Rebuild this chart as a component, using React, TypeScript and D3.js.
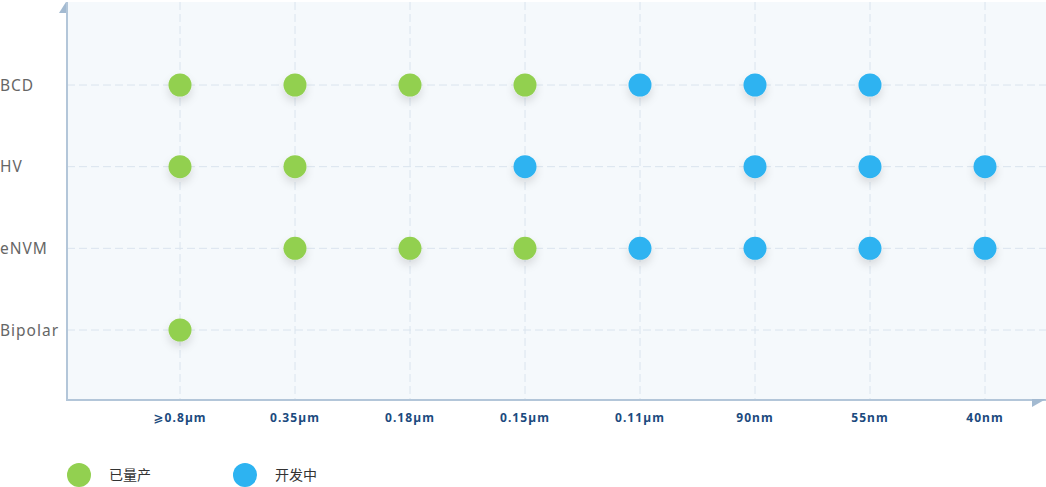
import React from "react";
import * as d3 from "d3";

const processNodes = ["⩾0.8µm", "0.35µm", "0.18µm", "0.15µm", "0.11µm", "90nm", "55nm", "40nm"];
const platforms = ["BCD", "HV", "eNVM", "Bipolar"];
const statusKeys = ["已量产", "开发中"];
// status per platform per node: 0 = 已量产, 1 = 开发中, null = none
const bcdStatus = [0, 0, 0, 0, 1, 1, 1, null];
const hvStatus = [0, 0, null, 1, null, 1, 1, 1];
const envmStatus = [null, 0, 0, 0, 1, 1, 1, 1];
const bipolarStatus = [0, null, null, null, null, null, null, null];
const statusRows = [bcdStatus, hvStatus, envmStatus, bipolarStatus];

const W = 1046;
const H = 487;
const colors = ["#92d050", "#2db3f1"];

export default function App() {
  const left = 67, right = 1046, top = 2, bottom = 400;
  const x = d3.scalePoint<string>().domain(processNodes).range([180, 985]);
  const y = d3.scalePoint<string>().domain(platforms).range([85, 330]);

  const points: { node: string; plat: string; s: number }[] = [];
  statusRows.forEach((row, i) =>
    row.forEach((s, j) => {
      if (s !== null) points.push({ node: processNodes[j], plat: platforms[i], s: s as number });
    })
  );

  const legendX = d3.scaleOrdinal<string, number>().domain(statusKeys).range([79, 245]);

  return (
    <svg width={W} height={H} style={{ position: "absolute", left: 0, top: 0 }}>
      <defs>
        <filter id="sh" x="-100%" y="-100%" width="300%" height="300%">
          <feDropShadow dx="0" dy="5" stdDeviation="4" floodColor="#000" floodOpacity="0.12" />
        </filter>
      </defs>
      <rect x={left} y={top} width={right - left} height={bottom - top} fill="#f5f9fc" />
      {platforms.map((p) => (
        <line key={p} x1={left} x2={right} y1={y(p)} y2={y(p)} stroke="#dae4ee" strokeWidth={1} strokeDasharray="8,4" />
      ))}
      {processNodes.map((n) => (
        <line key={n} x1={x(n)} x2={x(n)} y1={top} y2={bottom} stroke="#dae4ee" strokeWidth={1} strokeDasharray="8,4" />
      ))}
      <line x1={left} x2={left} y1={top} y2={bottom + 1} stroke="#b3c6d9" strokeWidth={2} />
      <line x1={left} x2={right} y1={bottom} y2={bottom} stroke="#b3c6d9" strokeWidth={2} />
      <path d={`M${left - 1},2 L${left - 1},13 L${left - 8},13 Z`} fill="#a3bad1" />
      <path d={`M1032,399 L1046,399 L1032,407 Z`} fill="#a3bad1" />
      {platforms.map((p) => (
        <text key={p} x={0} y={y(p)! + 1.5} dominantBaseline="middle" fontFamily="'Noto Sans', sans-serif" fontSize={15.5} fill="#666" letterSpacing={1}>
          {p}
        </text>
      ))}
      {processNodes.map((n) => (
        <text key={n} x={x(n)} y={419} textAnchor="middle" dominantBaseline="middle" fontFamily="'Noto Sans', 'DejaVu Sans', sans-serif" fontWeight="bold" fontSize={12} fill="#1b4a7e" letterSpacing={1.1}>
          {n}
        </text>
      ))}
      {points.map((p, i) => (
        <circle key={i} cx={x(p.node)} cy={y(p.plat)} r={11.5} fill={colors[p.s]} filter="url(#sh)" />
      ))}
      {statusKeys.map((k, i) => (
        <g key={k}>
          <circle cx={legendX(k)} cy={475} r={12} fill={colors[i]} />
          <text x={legendX(k) + 30} y={476} dominantBaseline="middle" fontFamily="'Noto Sans CJK SC', sans-serif" fontSize={14} fill="#333">
            {k}
          </text>
        </g>
      ))}
    </svg>
  );
}
